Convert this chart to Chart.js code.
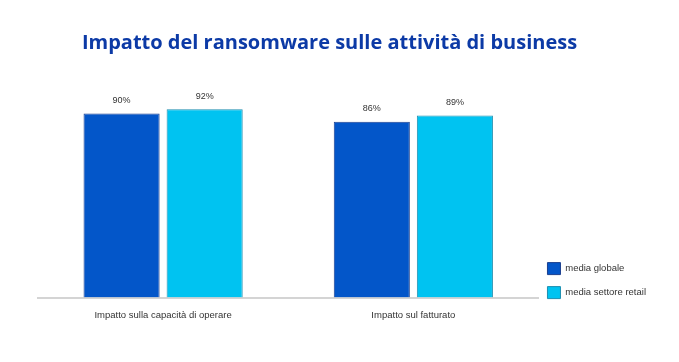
<!DOCTYPE html>
<html>
<head>
<meta charset="utf-8">
<script src="https://cdn.jsdelivr.net/npm/chart.js@4.4.1/dist/chart.umd.min.js"></script>
<style>
  html, body { margin: 0; padding: 0; background: #fff; }
  #wrap { width: 679px; height: 362px; }
</style>
</head>
<body>
<div id="wrap"><canvas id="chart" width="679" height="362"></canvas></div>
<script>
const categories = ['Impatto sulla capacità di operare', 'Impatto sul fatturato'];
const seriesNames = ['media globale', 'media settore retail'];
const globalValues = [90, 86];
const retailValues = [92, 89];

// draw the percentages above each bar
const valueLabels = {
  id: 'valueLabels',
  afterDatasetsDraw(chart) {
    const ctx = chart.ctx;
    ctx.save();
    ctx.font = '9px "Liberation Sans", Arial, sans-serif';
    ctx.fillStyle = '#333';
    ctx.textAlign = 'center';
    ctx.textBaseline = 'middle';
    chart.data.datasets.forEach((ds, i) => {
      chart.getDatasetMeta(i).data.forEach((bar, j) => {
        ctx.fillText(ds.data[j] + '%', bar.x, bar.y - 13);
      });
    });
    ctx.restore();
  }
};

// push the legend down a little, it sits near the bottom right
const legendNudge = {
  id: 'legendNudge',
  afterLayout(chart) {
    chart.legend.top += 13;
    chart.legend.bottom += 13;
    chart.legend.left -= 3;
    chart.legend.right -= 3;
  }
};

const chart = new Chart(document.getElementById('chart').getContext('2d'), {
  type: 'bar',
  data: {
    labels: categories,
    datasets: [{
      label: seriesNames[0],
      data: globalValues,
      backgroundColor: '#0356c9',
      borderColor: '#1b3f8f',
      borderWidth: 1,
      categoryPercentage: 0.664,
      barPercentage: 0.916
    }, {
      label: seriesNames[1],
      data: retailValues,
      backgroundColor: '#00c3f1',
      borderColor: '#1d8fb0',
      borderWidth: 1,
      categoryPercentage: 0.664,
      barPercentage: 0.916
    }]
  },
  options: {
    responsive: false,
    animation: false,
    layout: { padding: { left: 0, right: 20, top: 0, bottom: 37 } },
    plugins: {
      title: {
        display: true,
        text: 'Impatto del ransomware sulle attività di business',
        color: '#0c3aa6',
        font: { family: '"Open Sans", sans-serif', size: 20, weight: 'bold' },
        padding: { top: 31, bottom: 38 }
      },
      legend: {
        position: 'right',
        align: 'end',
        fullSize: false,
        labels: {
          boxWidth: 13,
          boxHeight: 12,
          padding: 12,
          color: '#333',
          font: { family: '"Liberation Sans", Arial, sans-serif', size: 9.5 }
        }
      },
      tooltip: { enabled: false }
    },
    scales: {
      x: {
        grid: { display: false },
        border: { display: true, color: '#d4d4d4', width: 2 },
        ticks: {
          color: '#333',
          padding: 4,
          font: { family: '"Liberation Sans", Arial, sans-serif', size: 9.5 }
        }
      },
      y: {
        min: 0,
        max: 100,
        grid: { display: false },
        border: { display: false },
        ticks: { display: false },
        afterFit(scale) { scale.width = 38; }
      }
    }
  },
  plugins: [valueLabels, legendNudge]
});
</script>
</body>
</html>
